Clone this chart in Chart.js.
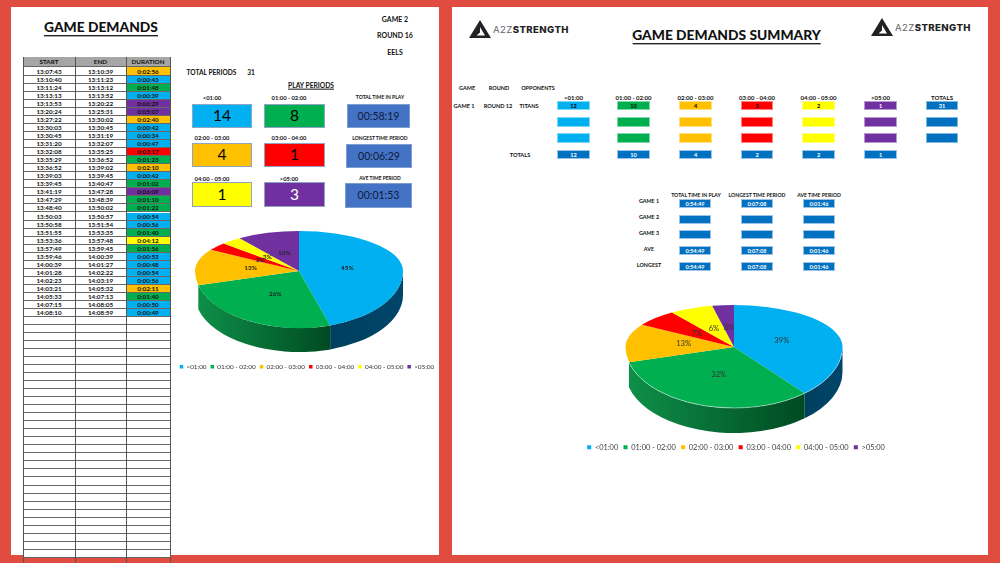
<!DOCTYPE html>
<html>
<head>
<meta charset="utf-8">
<title>Game Demands</title>
<script src="https://cdn.jsdelivr.net/npm/chart.js@4/dist/chart.umd.min.js"></script>
<style>
html, body { margin: 0; padding: 0; }
body { position: relative; width: 1000px; height: 563px; overflow: hidden; background: #e04c40; font-family: Lato, sans-serif; color: #111; }
.panel { position: absolute; top: 7px; height: 548px; background: #fff; }
.txt { position: absolute; white-space: nowrap; transform: translate(-50%, -50%); font-weight: 700; line-height: 1; }
.box { position: absolute; box-sizing: border-box; display: flex; align-items: center; justify-content: center; line-height: 1; }
.cell { position: absolute; box-sizing: border-box; display: flex; align-items: center; justify-content: center; font-size: 6.3px; font-weight: 700; border-bottom: 1px solid #666; }
.vline { position: absolute; top: 57px; height: 506px; width: 1px; background: #555; }
.title { position: absolute; transform: translateX(-50%); white-space: nowrap; font-weight: 900; line-height: 1; color: #111; border-bottom: 1px solid #222; box-shadow: 0 1px 0 #aaa; padding-bottom: 1px; }
canvas { position: absolute; }
.logo { position: absolute; display: flex; align-items: center; height: 18px; }
.logo span { font-family: Inter, sans-serif; font-size: 9.6px; letter-spacing: .4px; margin-left: 2px; color: #666; }
.logo b { color: #222; font-weight: 800; }
</style>
</head>
<body>
<div class="panel" style="left:11px;width:428px"></div>
<div class="panel" style="left:452px;width:536px"></div>
<div id="sheet"></div>
<canvas id="leftPie" width="270" height="155" style="left:172px;top:225px"></canvas>
<canvas id="rightPie" width="352" height="161" style="left:560px;top:300px"></canvas>

<script>
const categories = ["<01:00", "01:00 - 02:00", "02:00 - 03:00", "03:00 - 04:00", "04:00 - 05:00", ">05:00"];
const leftValues = [14, 8, 4, 1, 1, 3];
const leftLabels = ["45%", "26%", "13%", "3%", "3%", "10%"];
const rightValues = [12, 10, 4, 2, 2, 1];
const rightLabels = ["39%", "32%", "13%", "7%", "6%", "3%"];

const starts = ["13:07:43","13:10:40","13:11:24","13:13:13","13:13:53","13:20:24","13:27:22","13:30:03","13:30:45","13:31:20","13:32:08","13:35:29","13:36:52","13:39:03","13:39:45","13:41:19","13:47:29","13:48:40","13:50:03","13:50:58","13:51:55","13:53:36","13:57:49","13:59:46","14:00:39","14:01:28","14:02:23","14:03:21","14:05:33","14:07:15","14:08:10"];
const ends = ["13:10:39","13:11:23","13:13:12","13:13:52","13:20:22","13:25:31","13:30:02","13:30:45","13:31:19","13:32:07","13:35:25","13:36:52","13:39:02","13:39:45","13:40:47","13:47:28","13:48:39","13:50:02","13:50:57","13:51:54","13:53:35","13:57:48","13:59:45","14:00:39","14:01:27","14:02:22","14:03:19","14:05:32","14:07:13","14:08:05","14:08:59"];
const durations = ["0:02:56","0:00:43","0:01:48","0:00:39","0:06:29","0:05:07","0:02:40","0:00:42","0:00:34","0:00:47","0:03:17","0:01:23","0:02:10","0:00:42","0:01:02","0:06:09","0:01:10","0:01:22","0:00:54","0:00:56","0:01:40","0:04:12","0:01:56","0:00:53","0:00:48","0:00:54","0:00:56","0:02:11","0:01:40","0:00:50","0:00:49"];

const summaryHeads = [">01:00", "01:00 - 02:00", "02:00 - 03:00", "03:00 - 04:00", "04:00 - 05:00", ">05:00", "TOTALS"];
const game1Counts = [12, 10, 4, 2, 2, 1, 31];
const totalCounts = [12, 10, 4, 2, 2, 1];
const timeHeads = ["TOTAL TIME IN PLAY", "LONGEST TIME PERIOD", "AVE TIME PERIOD"];
const timeRows = ["GAME 1", "GAME 2", "GAME 3", "AVE", "LONGEST"];
const timeValues = ["0:54:49", "0:07:08", "0:01:46"];

const colors = ["#00b0f0", "#00b050", "#ffc000", "#ff0000", "#ffff00", "#7030a0"];
const sheet = document.getElementById("sheet");

function txt(s, x, y, size, extra) {
  const d = document.createElement("div");
  d.className = "txt";
  d.textContent = s;
  d.style.cssText = `left:${x}px;top:${y}px;font-size:${size}px;${extra || ""}`;
  sheet.appendChild(d);
}

function box(s, x0, y0, x1, y1, bg, size, color, border) {
  const d = document.createElement("div");
  d.className = "box";
  d.textContent = s;
  d.style.cssText = `left:${x0}px;top:${y0}px;width:${x1 - x0}px;height:${y1 - y0}px;background:${bg};font-size:${size}px;color:${color};border:1px solid ${border};`;
  sheet.appendChild(d);
  return d;
}

function title(s, x, y, size) {
  const d = document.createElement("div");
  d.className = "title";
  d.textContent = s;
  d.style.cssText = `left:${x}px;top:${y}px;font-size:${size}px;`;
  sheet.appendChild(d);
}

function logo(x, y) {
  const d = document.createElement("div");
  d.className = "logo";
  d.style.cssText = `left:${x}px;top:${y}px;`;
  d.innerHTML = `<svg width="22" height="18" viewBox="0 0 22 18"><path d="M11 0 22 18H0Z" fill="#222"/><path d="M11 7 16 15.5H7.5L11 12.5Z" fill="#fff"/></svg><span>A2Z<b>STRENGTH</b></span>`;
  sheet.appendChild(d);
}

function bucket(dur) {
  const p = dur.split(":").map(Number);
  const mins = p[1] + p[2] / 60;
  return Math.min(Math.floor(mins), 5);
}

// left sheet: the start/end/duration table
const colX = [23, 75, 126, 170];
const rowH = 8.03;
function row(top, h, texts, bg) {
  texts.forEach((t, c) => {
    const d = document.createElement("div");
    d.className = "cell";
    d.textContent = t;
    d.style.cssText = `left:${colX[c]}px;top:${top}px;width:${colX[c + 1] - colX[c]}px;height:${h}px;` + (bg[c] ? `background:${bg[c]};` : "");
    sheet.appendChild(d);
  });
}
row(57, 10, ["START", "END", "DURATION"], ["#a6a6a6", "#a6a6a6", "#a6a6a6"]);
for (let i = 0; 67 + i * rowH < 563; i++) {
  const top = i === 0 ? 67 : 76 + (i - 1) * rowH;
  const h = i === 0 ? 9 : rowH;
  if (i < starts.length) {
    row(top, h, [starts[i], ends[i], durations[i]], ["#fff", "#fff", colors[bucket(durations[i])]]);
  } else {
    row(top, h, ["", "", ""], [top < 555 ? "#fff" : null, top < 555 ? "#fff" : null, top < 555 ? "#fff" : null]);
  }
}
colX.forEach(x => {
  const v = document.createElement("div");
  v.className = "vline";
  v.style.left = x + "px";
  sheet.appendChild(v);
});

// left sheet: heading and tiles
title("GAME DEMANDS", 101, 20, 13.8);
txt("GAME 2", 395, 19, 7);
txt("ROUND 16", 395, 35, 7);
txt("EELS", 395, 52, 7);
txt("TOTAL PERIODS", 211.5, 72, 6.6);
txt("31", 251, 72, 6.6);
txt("PLAY PERIODS", 311, 85, 6.7, "text-decoration:underline;");

const tileCols = [[192, 252, 212], [264, 325, 289]];
const tileRows = [[104, 128, 97.5], [143, 167, 138], [182, 207, 178.5]];
const tileCounts = [14, 8, 4, 1, 1, 3];
tileRows.forEach((r, i) => tileCols.forEach((c, j) => {
  const k = i * 2 + j;
  txt(categories[k], c[2], r[2], 5.8);
  box(tileCounts[k], c[0], r[0], c[1], r[1], colors[k], 15.5, k === 5 ? "#fff" : "#000", "#8fa4c4");
}));
txt("TOTAL TIME IN PLAY", 380, 97, 5);
box("00:58:19", 347, 104, 410, 128, "#4472c4", 10.5, "#0c1c3c", "#7f9bd0");
txt("LONGEST TIME PERIOD", 380, 138, 5);
box("00:06:29", 346, 144, 412, 168, "#4472c4", 10.5, "#0c1c3c", "#7f9bd0");
txt("AVE TIME PERIOD", 380, 178, 4.9);
box("00:01:53", 345, 183, 412, 208, "#4472c4", 10.5, "#0c1c3c", "#7f9bd0");

// right sheet
logo(469, 20);
logo(871, 18);
title("GAME DEMANDS SUMMARY", 726.5, 28, 13.8);

txt("GAME", 467, 89, 5.5);
txt("ROUND", 499, 89, 5.5);
txt("OPPONENTS", 538, 89, 5.5);
txt("GAME 1", 464, 105.5, 5.6);
txt("ROUND 12", 498, 105.5, 5.6);
txt("TITANS", 529, 105.5, 5.6);
txt("TOTALS", 520, 154.5, 5.6);

const sumCols = [[557, 590], [617, 650], [679, 712], [741, 773], [802, 835], [864, 897], [926, 958]];
const sumRows = [[101, 110], [117, 127], [133, 143], [150, 159]];
const sumFills = colors.concat("#0070c0");
sumCols.forEach((c, j) => {
  const cx = (c[0] + c[1]) / 2;
  txt(summaryHeads[j], cx, 97.5, 6);
  const white = j >= 5;
  sumRows.slice(0, 3).forEach((r, i) => {
    box(i === 0 ? game1Counts[j] : "", c[0], r[0], c[1], r[1], sumFills[j], 5.6, white ? "#fff" : "#000", "rgba(255,255,255,.5)").style.fontWeight = 700;
  });
  if (j < 6) {
    box(totalCounts[j], c[0], sumRows[3][0], c[1], sumRows[3][1], "#0070c0", 5.6, "#fff", "#9dc3e6").style.fontWeight = 700;
  }
});

const timeCols = [[679, 711, 696], [741, 773, 757], [803, 835, 819]];
const timeTops = [[199, 208, 202], [215, 224, 218], [230, 239, 234], [246, 255, 250], [262, 271, 265.5]];
timeCols.forEach((c, j) => {
  txt(timeHeads[j], c[2], 195.5, 5.15);
  timeTops.forEach((r, i) => {
    const val = (i === 1 || i === 2) ? "" : timeValues[j];
    box(val, c[0], r[0], c[1], r[1], "#0070c0", 5.6, "#fff", "#9dc3e6").style.fontWeight = 700;
  });
});
timeRows.forEach((s, i) => txt(s, 649, timeTops[i][2], 5.4));

// pies: slices come from chart.js, the plugin lays them down as a tilted disc
function sidePath(ctx, t, s, e) {
  ctx.beginPath();
  ctx.ellipse(t.cx, t.apexY, t.rx, t.down, 0, s, e);
  ctx.ellipse(t.cx, t.apexY + t.depth, t.rx, t.down, 0, e, s, true);
  ctx.closePath();
}

function drawHalf(chart, meta, t, upper) {
  const ctx = chart.ctx, arc = meta.data[0];
  ctx.save();
  ctx.beginPath();
  if (upper) ctx.rect(0, 0, chart.width, t.apexY);
  else ctx.rect(0, t.apexY, chart.width, chart.height - t.apexY);
  ctx.clip();
  ctx.translate(t.cx, t.apexY);
  ctx.scale(t.rx / arc.outerRadius, (upper ? t.up : t.down) / arc.outerRadius);
  ctx.translate(-arc.x, -arc.y);
  meta.controller.draw();
  ctx.restore();
}

const tiltPie = {
  id: "tiltPie",
  beforeDatasetDraw(chart, args, t) {
    const ctx = chart.ctx, meta = args.meta;
    meta.data.forEach((a, i) => {
      const side = t.sides[i];
      const s = Math.max(a.startAngle, 0), e = Math.min(a.endAngle, Math.PI);
      if (!side || e <= s) return;
      const g = ctx.createLinearGradient(t.cx + t.rx * Math.cos(e), 0, t.cx + t.rx * Math.cos(s), 0);
      g.addColorStop(0, side[0]);
      g.addColorStop(1, side[1]);
      ctx.fillStyle = g;
      sidePath(ctx, t, s, e);
      ctx.fill();
    });
    drawHalf(chart, meta, t, true);
    drawHalf(chart, meta, t, false);
    if (t.rim) {
      ctx.strokeStyle = t.rim;
      ctx.lineWidth = 0.8;
      ctx.beginPath();
      ctx.ellipse(t.cx, t.apexY, t.rx, t.down, 0, 0.1, Math.PI - 0.1);
      ctx.stroke();
    }
    ctx.font = t.font;
    ctx.fillStyle = t.labelColor;
    ctx.textAlign = "center";
    ctx.textBaseline = "middle";
    meta.data.forEach((a, i) => {
      const mid = (a.startAngle + a.endAngle) / 2;
      const ry = Math.sin(mid) > 0 ? t.down : t.up;
      ctx.fillText(t.labels[i], t.cx + 0.47 * t.rx * Math.cos(mid), t.apexY + 0.47 * ry * Math.sin(mid));
    });
    return false;
  }
};

function pie(id, values, t, fontSize, pad, legendColor) {
  return new Chart(document.getElementById(id), {
    type: "pie",
    data: { labels: categories, datasets: [{ data: values, backgroundColor: colors, borderWidth: 0 }] },
    plugins: [tiltPie],
    options: {
      responsive: false,
      animation: false,
      plugins: {
        tooltip: { enabled: false },
        tiltPie: t,
        legend: {
          position: "bottom",
          labels: {
            boxWidth: fontSize * 0.55,
            boxHeight: fontSize * 0.55,
            padding: pad,
            color: legendColor,
            font: { family: "Lato", size: fontSize }
          }
        }
      }
    }
  });
}

const greenSide = ["#0e8f48", "#004a22"];
const blueSide = ["#003f5e", "#00466a"];

pie("leftPie", leftValues, {
  cx: 299 - 172, apexY: 271 - 225, rx: 104, up: 40, down: 57, depth: 24,
  sides: [blueSide, greenSide, null, null, null, null],
  labels: leftLabels, font: "700 6.4px Lato", labelColor: "#222"
}, 6.4, 4, "#333");

pie("rightPie", rightValues, {
  cx: 734 - 560, apexY: 347 - 300, rx: 108.5, up: 42, down: 61, depth: 25,
  sides: [blueSide, greenSide, null, null, null, null],
  labels: rightLabels, font: "7.6px Lato", labelColor: "#333", rim: "rgba(255,255,255,.55)"
}, 7.4, 5.3, "#404040");
</script>
</body>
</html>
